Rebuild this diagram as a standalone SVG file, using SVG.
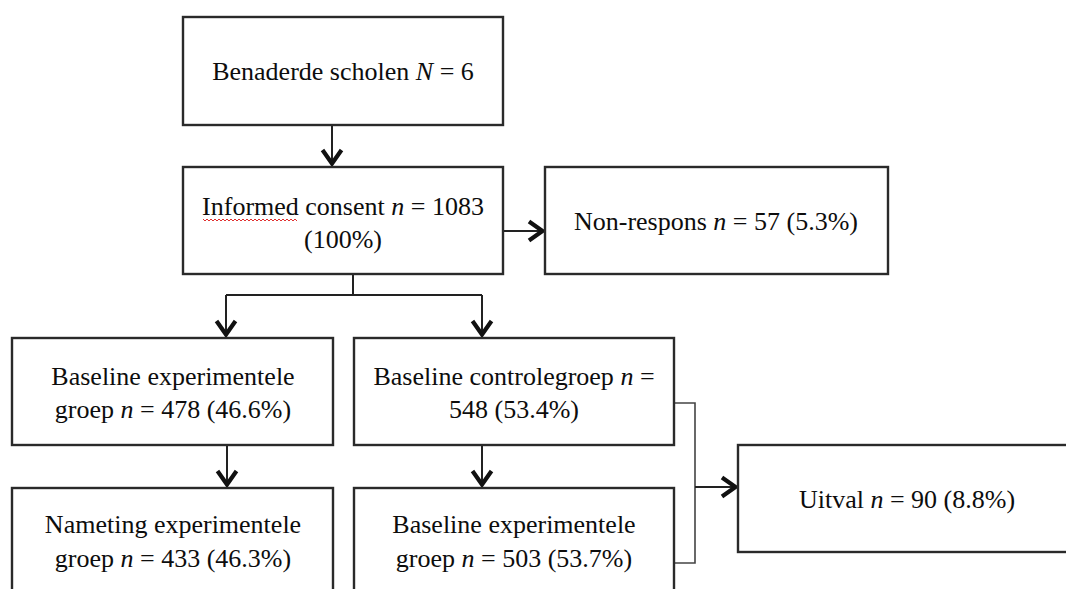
<svg xmlns="http://www.w3.org/2000/svg" width="1066" height="589" viewBox="0 0 1066 589">
<defs>
<marker id="arr" markerUnits="userSpaceOnUse" markerWidth="24" markerHeight="24" refX="0" refY="0" viewBox="-18 -12 20 24" orient="auto" overflow="visible">
<path d="M-15,-9.5 L-1.5,0 L-15,9.5" fill="none" stroke="#111" stroke-width="4.2" stroke-linejoin="miter" stroke-linecap="butt"/>
</marker>
<style>
.box{fill:#fff;stroke:#2a2a2a;stroke-width:2.4}
.t{font-family:"Liberation Serif","Times New Roman",serif;font-size:26px;fill:#0d0d0d;text-anchor:middle}
.i{font-style:italic}
.c{fill:none;stroke:#222;stroke-width:2}
.b{fill:none;stroke:#444;stroke-width:1.6}
</style>
</defs>
<rect width="1066" height="589" fill="#fff"/>
<g id="connectors">
<path class="c" d="M332,125 V165" marker-end="url(#arr)"/>
<path class="c" d="M353,274 V295 M226,295 H482"/>
<path class="c" d="M226,295 V336" marker-end="url(#arr)"/>
<path class="c" d="M482,295 V336" marker-end="url(#arr)"/>
<path class="c" d="M503,231 H544" marker-end="url(#arr)"/>
<path class="c" d="M227,445 V486" marker-end="url(#arr)"/>
<path class="c" d="M482,445 V486" marker-end="url(#arr)"/>
<path class="b" d="M674,403 H695 V563 H674"/>
<path class="c" d="M695,487 H737" marker-end="url(#arr)"/>
</g>
<g id="n1">
<rect class="box" x="183" y="17" width="320" height="108"/>
<text class="t" x="343" y="80">Benaderde scholen <tspan class="i">N</tspan> = 6</text>
</g>
<g id="n2">
<rect class="box" x="183" y="167" width="320" height="107"/>
<text class="t" x="343" y="215">Informed consent <tspan class="i">n</tspan> = 1083</text>
<text class="t" x="343" y="248">(100%)</text>
<path d="M203,219 l2,2 l2,-2 l2,2 l2,-2 l2,2 l2,-2 l2,2 l2,-2 l2,2 l2,-2 l2,2 l2,-2 l2,2 l2,-2 l2,2 l2,-2 l2,2 l2,-2 l2,2 l2,-2 l2,2 l2,-2 l2,2 l2,-2 l2,2 l2,-2 l2,2 l2,-2 l2,2 l2,-2 l2,2 l2,-2 l2,2 l2,-2 l2,2 l2,-2 l2,2 l2,-2 l2,2 l2,-2 l2,2 l2,-2 l2,2 l2,-2 l2,2 l2,-2 l2,2" fill="none" stroke="#e03030" stroke-width="1"/>
</g>
<g id="n3">
<rect class="box" x="545" y="167" width="343" height="107"/>
<text class="t" x="716" y="230">Non-respons <tspan class="i">n</tspan> = 57 (5.3%)</text>
</g>
<g id="n4">
<rect class="box" x="12" y="338" width="321" height="107"/>
<text class="t" x="173" y="385">Baseline experimentele</text>
<text class="t" x="173" y="418">groep <tspan class="i">n</tspan> = 478 (46.6%)</text>
</g>
<g id="n5">
<rect class="box" x="354" y="338" width="320" height="107"/>
<text class="t" x="514" y="385">Baseline controlegroep <tspan class="i">n</tspan> =</text>
<text class="t" x="514" y="418">548 (53.4%)</text>
</g>
<g id="n6">
<rect class="box" x="12" y="488" width="321" height="120"/>
<text class="t" x="173" y="533">Nameting experimentele</text>
<text class="t" x="173" y="567">groep <tspan class="i">n</tspan> = 433 (46.3%)</text>
</g>
<g id="n7">
<rect class="box" x="354" y="488" width="320" height="120"/>
<text class="t" x="514" y="533">Baseline experimentele</text>
<text class="t" x="514" y="567">groep <tspan class="i">n</tspan> = 503 (53.7%)</text>
</g>
<g id="n8">
<rect class="box" x="738" y="445" width="340" height="107"/>
<text class="t" x="907" y="508">Uitval <tspan class="i">n</tspan> = 90 (8.8%)</text>
</g>
</svg>
